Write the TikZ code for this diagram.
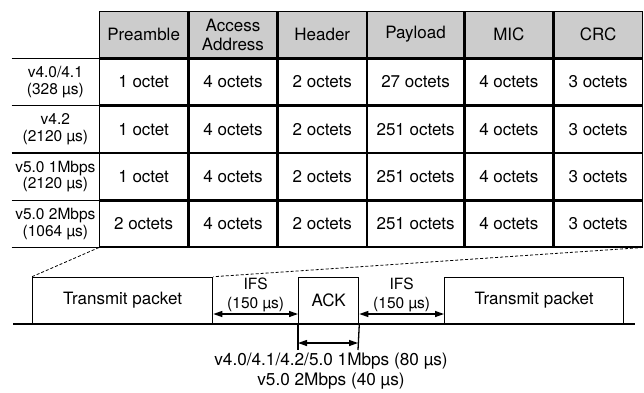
\documentclass[tikz,border=0pt]{standalone}
\usepackage{fontspec}
\setmainfont{TeX Gyre Heros}
\usetikzlibrary{arrows.meta, positioning}

\begin{document}
\begin{tikzpicture}[x=1pt, y=-1pt, >={Triangle[length=9pt,width=6pt]}, line width=1.3pt,
  cell/.style={draw, minimum width=88pt, minimum height=46pt, inner sep=0pt, align=center, font=\fontsize{17}{19}\selectfont},
  head/.style={cell, fill=black!20},
  lbl/.style={minimum width=86pt, minimum height=46pt, inner sep=0pt, align=center, font=\fontsize{15.5}{16.5}\selectfont},
  pkt/.style={draw, minimum height=46pt, inner sep=0pt, anchor=south west, font=\fontsize{17}{19}\selectfont},
  note/.style={align=center, inner sep=1pt, font=\fontsize{15.5}{19}\selectfont}]
\useasboundingbox (0,0) rectangle (644,392);

% Header row
\node[head, anchor=north west] (pre) at (99,11) {Preamble};
\node[head, right=0pt of pre] (aa) {Access\\Address};
\node[head, right=0pt of aa] (hdr) {Header};
\node[head, right=0pt of hdr, minimum width=96pt] (pay) {Payload};
\node[head, right=0pt of pay] (mic) {MIC};
\node[head, right=0pt of mic] (crc) {CRC};

% v4.0/4.1
\node[cell, below=0pt of pre] (pre1) {1 octet};
\node[cell, below=0pt of aa] (aa1) {4 octets};
\node[cell, below=0pt of hdr] (hdr1) {2 octets};
\node[cell, below=0pt of pay, minimum width=96pt] (pay1) {27 octets};
\node[cell, below=0pt of mic] (mic1) {4 octets};
\node[cell, below=0pt of crc] (crc1) {3 octets};
\node[lbl, left=0pt of pre1] (v1) {v4.0/4.1\\(328 µs)};

% v4.2
\node[cell, below=0pt of pre1] (pre2) {1 octet};
\node[cell, below=0pt of aa1] (aa2) {4 octets};
\node[cell, below=0pt of hdr1] (hdr2) {2 octets};
\node[cell, below=0pt of pay1, minimum width=96pt] (pay2) {251 octets};
\node[cell, below=0pt of mic1] (mic2) {4 octets};
\node[cell, below=0pt of crc1] (crc2) {3 octets};
\node[lbl, left=0pt of pre2] (v2) {v4.2\\(2120 µs)};

% v5.0 1Mbps
\node[cell, below=0pt of pre2] (pre3) {1 octet};
\node[cell, below=0pt of aa2] (aa3) {4 octets};
\node[cell, below=0pt of hdr2] (hdr3) {2 octets};
\node[cell, below=0pt of pay2, minimum width=96pt] (pay3) {251 octets};
\node[cell, below=0pt of mic2] (mic3) {4 octets};
\node[cell, below=0pt of crc2] (crc3) {3 octets};
\node[lbl, left=0pt of pre3] (v3) {v5.0 1Mbps\\(2120 µs)};

% v5.0 2Mbps
\node[cell, below=0pt of pre3] (pre4) {2 octets};
\node[cell, below=0pt of aa3] (aa4) {4 octets};
\node[cell, below=0pt of hdr3] (hdr4) {2 octets};
\node[cell, below=0pt of pay3, minimum width=96pt] (pay4) {251 octets};
\node[cell, below=0pt of mic3] (mic4) {4 octets};
\node[cell, below=0pt of crc3] (crc4) {3 octets};
\node[lbl, left=0pt of pre4] (v4) {v5.0 2Mbps\\(1064 µs)};

% Label column rules
\draw (v1.north west) -- (pre1.north west);
\draw (v1.south west) -- (pre1.south west);
\draw (v2.south west) -- (pre2.south west);
\draw (v3.south west) -- (pre3.south west);
\draw (v4.south west) -- (pre4.south west);

% Timeline
\node[pkt, minimum width=180pt] (tx1) at (32,324) {Transmit packet};
\node[pkt, minimum width=60pt] (ack) at (298,324) {ACK};
\node[pkt, minimum width=179pt] (tx2) at (444,324) {Transmit packet};
\coordinate (bl) at (13,324);
\coordinate (br) at (635,324);
\draw[line width=2.8pt] (bl) -- (br);

% Zoom lines
\draw[dashed, line width=0.8pt, dash pattern=on 3pt off 2pt] (pre4.south west) -- (tx1.north west);
\draw[dashed, line width=0.8pt, dash pattern=on 3pt off 2pt] (crc4.south east) -- (tx1.north east);

% IFS gaps
\draw[<->] ([yshift=10pt]tx1.south east) -- node[note, above] (ifs1) {IFS\\(150 µs)} ([yshift=10pt]ack.south west);
\draw[<->] ([yshift=10pt]ack.south east) -- node[note, above] (ifs2) {IFS\\(150 µs)} ([yshift=10pt]tx2.south west);

% ACK duration
\coordinate (ackl) at (298,350);
\coordinate (ackr) at (358,350);
\draw (ack.south west) -- (ackl);
\draw (ack.south east) -- (ackr);
\draw[<->] ([yshift=7pt]ackl) -- ([yshift=7pt]ackr);
\node[note, font=\fontsize{17.2}{20}\selectfont, below=1pt of ackl, xshift=33pt, anchor=north] (acktime) {v4.0/4.1/4.2/5.0 1Mbps (80 µs)\\v5.0 2Mbps (40 µs)};
\end{tikzpicture}
\end{document}
